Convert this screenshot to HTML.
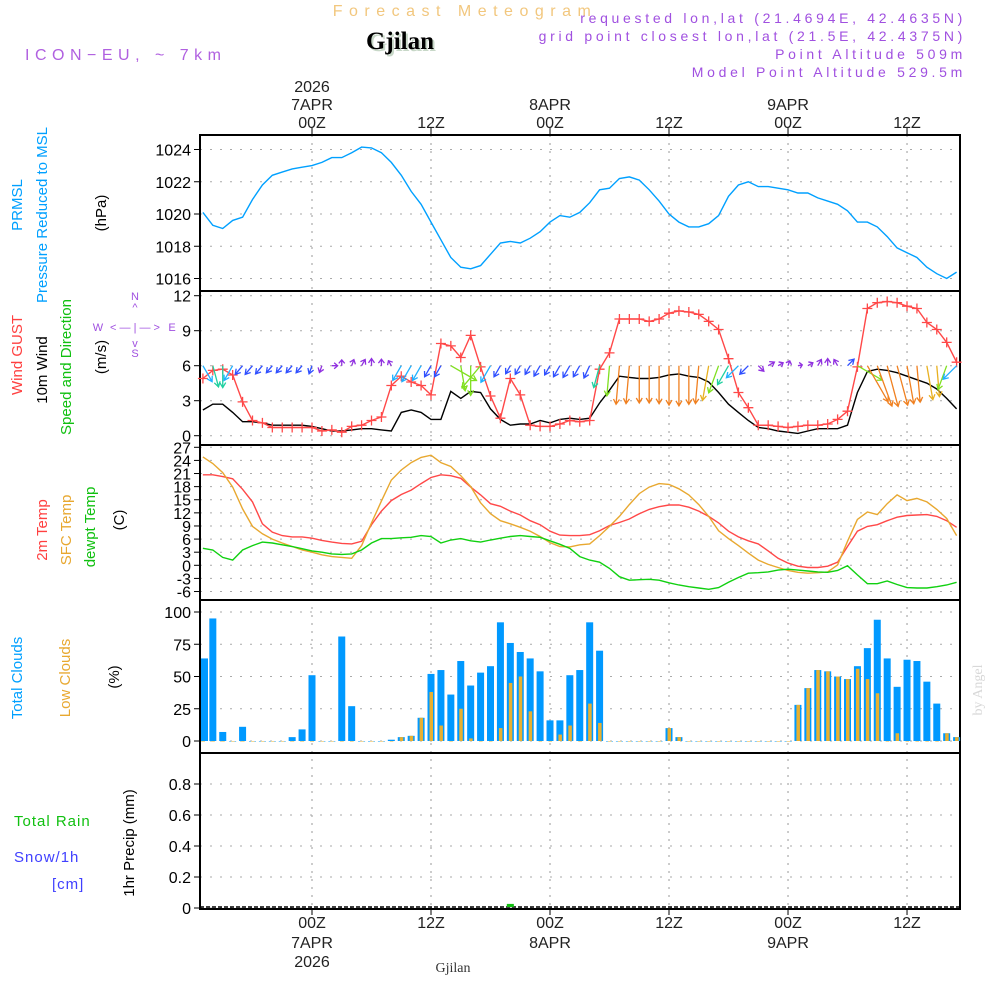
<!DOCTYPE html>
<html><head><meta charset="utf-8"><style>
body{margin:0;background:#fff;width:1000px;height:1000px;overflow:hidden}
svg{font-family:"Liberation Sans",sans-serif}
</style></head><body>
<svg id="c" width="1000" height="1000" viewBox="0 0 1000 1000">
<g>
<text x="465" y="16" text-anchor="middle" fill="#f2c77e" font-size="16" letter-spacing="6.5">Forecast Meteogram</text>
<text x="400" y="49" text-anchor="middle" fill="#c8d8c8" font-size="25" font-weight="bold" font-family="Liberation Serif,serif" transform="translate(2,2)">Gjilan</text>
<text x="400" y="49" text-anchor="middle" fill="#000" font-size="25" font-weight="bold" font-family="Liberation Serif,serif">Gjilan</text>
<text x="25" y="60" fill="#b060e0" font-size="16" letter-spacing="5.5">ICON−EU, ~ 7km</text>
<g fill="#a050e0" font-size="14" text-anchor="end" letter-spacing="3.7">
<text x="966" y="23">requested lon,lat (21.4694E, 42.4635N)</text>
<text x="966" y="41">grid point closest lon,lat (21.5E, 42.4375N)</text>
<text x="966" y="59">Point Altitude 509m</text>
<text x="966" y="77">Model Point Altitude 529.5m</text>
</g>
</g>
<g id="labels" font-size="15">
<text transform="translate(22,205) rotate(-90)" text-anchor="middle" fill="#00a0ff">PRMSL</text>
<text transform="translate(47,215) rotate(-90)" text-anchor="middle" fill="#00a0ff">Pressure Reduced to MSL</text>
<text transform="translate(106,213) rotate(-90)" text-anchor="middle" fill="#000">(hPa)</text>
<text transform="translate(22,355) rotate(-90)" text-anchor="middle" fill="#ff4040">Wind GUST</text>
<text transform="translate(47,370) rotate(-90)" text-anchor="middle" fill="#000">10m Wind</text>
<text transform="translate(71,367) rotate(-90)" text-anchor="middle" fill="#10c010">Speed and Direction</text>
<text transform="translate(106,357) rotate(-90)" text-anchor="middle" fill="#000">(m/s)</text>
<g fill="#a050e0" font-size="11" text-anchor="middle">
<text x="135" y="300">N</text><text x="135" y="311">^</text><text x="135" y="331">&lt; — | — &gt;</text><text x="98" y="331">W</text><text x="172" y="331">E</text><text x="135" y="347">v</text><text x="135" y="357">S</text>
</g>
<text transform="translate(47,530) rotate(-90)" text-anchor="middle" fill="#ff4040">2m Temp</text>
<text transform="translate(71,530) rotate(-90)" text-anchor="middle" fill="#e8a830">SFC Temp</text>
<text transform="translate(95,527) rotate(-90)" text-anchor="middle" fill="#10c010">dewpt Temp</text>
<text transform="translate(124,520) rotate(-90)" text-anchor="middle" fill="#000">(C)</text>
<text transform="translate(22,678) rotate(-90)" text-anchor="middle" fill="#00a0ff">Total Clouds</text>
<text transform="translate(70,678) rotate(-90)" text-anchor="middle" fill="#e8a830">Low Clouds</text>
<text transform="translate(119,677) rotate(-90)" text-anchor="middle" fill="#000">(%)</text>
<text x="14" y="826" fill="#10c010" letter-spacing="1">Total  Rain</text>
<text x="14" y="862" fill="#4040ff" letter-spacing="1">Snow/1h</text>
<text x="52" y="889" fill="#4040ff" letter-spacing="1">[cm]</text>
<text transform="translate(134,843) rotate(-90)" text-anchor="middle" fill="#000">1hr Precip (mm)</text>
<text transform="translate(982,690) rotate(-90)" text-anchor="middle" fill="#d8d8d8" font-family="Liberation Serif,serif" font-size="14">by Angel</text>
<text x="453" y="972" text-anchor="middle" fill="#333" font-family="Liberation Serif,serif" font-size="14">Gjilan</text>
</g>
<g id="plot"></g>
</svg>
<script>
const hours=[];for(let h=-11;h<=65;h++)hours.push(h);
const pressure=[1020.1,1019.3,1019.1,1019.6,1019.8,1020.9,1021.8,1022.4,1022.6,1022.8,1022.9,1023.0,1023.2,1023.5,1023.5,1023.8,1024.15,1024.1,1023.8,1023.2,1022.4,1021.4,1020.6,1019.5,1018.4,1017.3,1016.7,1016.6,1016.8,1017.5,1018.2,1018.3,1018.2,1018.5,1018.9,1019.5,1019.9,1019.8,1020.1,
1020.7,1021.5,1021.6,1022.2,1022.3,1022.1,1021.5,1020.8,1020.0,1019.5,1019.2,1019.2,1019.4,1019.9,1021.1,1021.8,1022.0,1021.7,1021.7,1021.6,1021.5,1021.3,1021.3,1021.0,1020.8,1020.6,1020.2,1019.5,1019.5,1019.2,1018.6,1017.9,1017.6,1017.3,1016.7,1016.3,1016.0,1016.4];
const gust=[4.9,5.6,5.7,5.2,2.9,1.3,1.1,0.7,0.7,0.7,0.7,0.7,0.4,0.5,0.3,0.8,0.9,1.3,1.6,4.3,5.1,4.6,4.3,3.5,7.9,7.7,6.7,8.6,5.9,3.4,1.5,4.9,3.5,0.9,0.8,0.8,1.0,1.3,1.2,
1.3,5.7,7.1,10.0,10.0,10.0,9.8,10.0,10.5,10.7,10.6,10.4,9.8,9.1,6.6,3.7,2.4,0.9,0.9,0.8,0.7,0.8,0.9,0.9,1.0,1.4,2.1,5.9,10.9,11.4,11.5,11.4,11.1,10.9,9.7,9.1,8.0,6.3];
const wind=[2.2,2.7,2.7,2.0,1.2,1.2,1.1,0.9,0.9,0.9,0.9,0.8,0.6,0.4,0.4,0.5,0.6,0.6,0.5,0.4,2.0,2.2,2.0,1.4,1.4,3.8,3.2,3.8,3.7,2.3,1.4,0.9,1.0,1.0,1.3,1.1,1.4,1.5,1.4,
1.5,2.8,3.9,5.1,5.0,4.9,4.9,5.0,5.2,5.3,5.1,5.0,4.6,3.7,2.7,2.0,1.3,0.7,0.6,0.4,0.3,0.2,0.4,0.6,0.6,0.6,0.9,3.7,5.5,5.7,5.6,5.4,5.1,4.8,4.5,4.0,3.2,2.3];
const windDir=[150,165,180,210,220,220,220,220,220,220,220,200,200,90,0,20,30,0,0,330,210,210,210,210,210,120,170,180,220,210,210,210,210,210,210,210,210,210,210,
205,195,185,185,185,180,180,180,180,180,180,185,190,200,210,225,225,135,60,60,20,80,60,30,0,330,45,120,150,160,165,165,170,175,170,175,200,225];
const temp2m=[20.7,20.7,20.3,19.8,17.4,14.5,9.5,7.6,6.8,6.5,6.5,6.2,5.7,5.3,5.0,4.9,5.5,9.3,12.4,14.8,16.2,17.2,18.7,20.1,20.7,20.5,19.9,17.9,16.1,14.1,13.5,12.4,11.5,10.2,9.3,7.8,6.9,6.8,6.8,
7.0,7.9,9.1,9.8,10.6,11.8,12.8,13.4,13.8,13.8,13.3,12.4,11.2,9.7,7.8,6.5,5.6,4.9,3.3,1.6,0.5,-0.2,-0.5,-0.5,-0.2,0.7,4.3,7.8,8.9,9.3,10.2,11.0,11.4,11.5,11.6,11.2,10.2,8.7];
const tempSfc=[24.8,23.3,21.2,17.9,12.9,8.9,7.2,6.0,5.1,4.3,3.5,3.0,2.4,2.0,1.8,1.6,4.5,9.7,14.7,19.5,21.8,23.5,24.7,25.2,23.5,22.6,20.5,18.0,14.3,11.8,10.2,9.5,8.7,7.8,6.6,5.2,4.3,4.2,4.7,
4.9,6.8,8.9,11.2,13.9,16.4,17.9,18.7,18.5,17.5,16.1,13.9,11.2,7.9,6.1,4.5,2.8,1.2,0.2,-0.5,-1.2,-1.6,-1.8,-1.7,-1.5,0.1,5.5,10.5,12.2,11.6,14.1,16.1,14.8,15.3,14.5,12.8,10.7,6.8];
const dewpt=[3.9,3.5,1.8,1.2,3.5,4.5,5.3,5.1,4.7,4.3,3.8,3.3,3.0,2.6,2.5,2.6,3.5,5.1,6.1,6.1,6.3,6.4,6.8,6.6,5.1,5.8,6.1,5.6,5.3,5.8,6.2,6.6,6.8,6.6,6.4,5.6,4.8,3.9,2.0,
1.2,0.7,-0.7,-2.6,-3.4,-3.3,-3.2,-3.4,-4.0,-4.5,-4.9,-5.2,-5.5,-5.1,-3.9,-2.8,-1.8,-1.7,-1.5,-1.1,-0.9,-1.1,-1.3,-1.5,-1.6,-1.2,-0.1,-2.2,-4.2,-4.2,-3.6,-4.4,-5.1,-5.2,-5.2,-4.9,-4.5,-3.9];
const totalClouds=[64,95,7,0,11,0,0,0,0,3,9,51,0,0,81,27,0,0,0,1,3,4,18,52,55,36,62,43,53,58,92,76,69,64,54,16,16,51,55,
92,70,0,0,0,0,0,0,10,3,0,0,0,0,0,0,0,0,0,0,0,28,41,55,54,50,48,58,72,94,64,42,63,62,46,29,6,3];
const lowClouds=[0,0,0,0,0,0,0,0,0,0,0,0,0,0,0,0,0,0,0,0,3,4,18,38,12,0,25,2,0,0,10,45,50,23,0,0,5,12,0,
29,14,0,0,0,0,0,0,10,3,0,0,0,0,0,0,0,0,0,0,0,28,41,55,54,50,48,56,48,37,0,6,0,0,0,0,6,3];
const precip=[0,0,0,0,0,0,0,0,0,0,0,0,0,0,0,0,0,0,0,0,0,0,0,0,0,0,0,0,0,0,0,0.02,0,0,0,0,0,0,0,
0,0,0,0,0,0,0,0,0,0,0,0,0,0,0,0,0,0,0,0,0,0,0,0,0,0,0,0,0,0,0,0,0,0,0,0,0,0];
const pTicks=[1016,1018,1020,1022,1024];
const wTicks=[0,3,6,9,12];
const tTicks=[-6,-3,0,3,6,9,12,15,18,21,24,27];
const cTicks=[0,25,50,75,100];
const rTicks=[0,0.2,0.4,0.6,0.8];
const timeTicks=[0,12,24,36,48,60];
const timeLabels=["00Z","12Z","00Z","12Z","00Z","12Z"];
const dayLabels=["7APR","","8APR","","9APR",""];

const NS='http://www.w3.org/2000/svg';
const plot=document.getElementById('plot');
const X0=200,X1=960;
const xs=h=>312+h*9.917;
function lin(v0,y0,v1,y1){return v=>y0+(v-v0)*(y1-y0)/(v1-v0);}
const yP=lin(1016,278.5,1024,149.5);
const yW=lin(0,435.7,12,295.7);
const yT=lin(0,565.3,27,447.3);
const yC=lin(0,741,100,612);
const yR=lin(0,908,0.8,784);
function el(tag,at,parent){const e=document.createElementNS(NS,tag);for(const k in at)e.setAttribute(k,at[k]);(parent||plot).appendChild(e);return e;}
const panels=[[135,291],[291,445],[445,600],[600,753],[753,909]];
timeTicks.forEach(t=>{
 const g=el('line',{x1:xs(t),x2:xs(t),y1:135,y2:909,stroke:'#999','stroke-dasharray':'2,6'});
 
 
});
function hgrid(ticks,f,fmt){ticks.forEach(v=>{
 const y=f(v);
 const g=el('line',{x1:X0,x2:X1,y1:y,y2:y,stroke:'#aaa','stroke-dasharray':'2,8'});
 
 
 el('line',{x1:X0-6,x2:X0,y1:y,y2:y,stroke:'#000'});
 const t=el('text',{x:X0-9,y:y+6,'text-anchor':'end','font-size':16,fill:'#000'});
 t.textContent=fmt?fmt(v):v;
 
 
});}
hgrid(pTicks,yP);hgrid(wTicks,yW);hgrid(tTicks,yT);hgrid(cTicks,yC);hgrid(rTicks,yR,v=>v===0?'0':v.toFixed(1));
panels.forEach(p=>{
 const r=el('rect',{x:X0,y:p[0],width:X1-X0,height:p[1]-p[0],fill:'none',stroke:'#000','stroke-width':2});
 
 
});
timeTicks.forEach((t,i)=>{
 const x=xs(t);
 el('line',{x1:x,x2:x,y1:128,y2:135,stroke:'#000'});
 el('line',{x1:x,x2:x,y1:909,y2:915,stroke:'#000'});
 const a=el('text',{x:x,y:128,'text-anchor':'middle','font-size':16,fill:'#222'});a.textContent=timeLabels[i];
 
 
 const b=el('text',{x:x,y:928,'text-anchor':'middle','font-size':16,fill:'#222'});b.textContent=timeLabels[i];
 
 
 if(dayLabels[i]){
  const c=el('text',{x:x,y:110,'text-anchor':'middle','font-size':16,fill:'#222'});c.textContent=dayLabels[i];
  
  
  const d=el('text',{x:x,y:948,'text-anchor':'middle','font-size':16,fill:'#222'});d.textContent=dayLabels[i];
  
  
 }
 if(i===0){
  const e=el('text',{x:x,y:92,'text-anchor':'middle','font-size':16,fill:'#222'});e.textContent='2026';
  
  
  const f=el('text',{x:x,y:967,'text-anchor':'middle','font-size':16,fill:'#222'});f.textContent='2026';
  
  
 }
});
function line(arr,f,color,name){
 const d=arr.map((v,i)=>(i?'L':'M')+xs(hours[i]).toFixed(1)+','+f(v).toFixed(1)).join('');
 const p=el('path',{d:d,fill:'none',stroke:color,'stroke-width':1.4});
 
 
 return p;
}
totalClouds.forEach((v,i)=>{
 const x=xs(hours[i]);
 const b=el('rect',{x:Math.max(X0+1,x-3.5),y:yC(v),width:7,height:Math.max(0.5,yC(0)-yC(v)),fill:'#0099ff'});
 
 
 const l=el('rect',{x:x-1.5,y:yC(lowClouds[i]),width:3.5,height:Math.max(0.5,yC(0)-yC(lowClouds[i])),fill:'#e8b030'});
 
 
});
el('line',{x1:X0,x2:X1,y1:yR(0)-1,y2:yR(0)-1,stroke:'#000','stroke-dasharray':'4,2','stroke-width':1.5});
precip.forEach((v,i)=>{if(v>0){
 const b=el('rect',{x:xs(hours[i])-3.5,y:yR(v)-1,width:7,height:yR(0)-yR(v),fill:'#10c010'});
 
 
}});
line(pressure,yP,'#00a0ff','pressure-line');
line(temp2m,yT,'#ff4848','temp-2m-line');
line(tempSfc,yT,'#e8a830','sfc-temp-line');
line(dewpt,yT,'#10d010','dewpoint-line');
line(wind,yW,'#000','wind-speed-line');
line(gust,yW,'#ff4848','gust-line');
gust.forEach((v,i)=>{
 const x=xs(hours[i]),y=yW(v);
 const g=el('path',{d:`M${x-5},${y}H${x+5}M${x},${y-5}V${y+5}`,stroke:'#ff4848','stroke-width':1.3});
 
 
});
function wcol(s){if(s<0.8)return '#9030e0';if(s<1.8)return '#3050ff';if(s<2.6)return '#20b0ff';if(s<3.2)return '#20d0a0';if(s<4)return '#80e020';if(s<4.8)return '#e8b020';return '#f08020';}
windDir.forEach((d,i)=>{
 const s=wind[i];const len=3+7*s;
 const a=d*Math.PI/180;
 const x0=xs(hours[i]),y0=yW(6);
 const x1=x0+len*Math.sin(a),y1=y0-len*Math.cos(a);
 const hx=Math.sin(a),hy=-Math.cos(a);
 const px=-hy,py=hx;
 const c=wcol(s);
 const hl=Math.min(5,len*0.6);
 const p=el('path',{d:`M${x0},${y0}L${x1},${y1}M${x1-hl*hx+3*px},${y1-hl*hy+3*py}L${x1},${y1}L${x1-hl*hx-3*px},${y1-hl*hy-3*py}`,fill:'none',stroke:c,'stroke-width':1.3});
 
 
});
</script>
</body></html>
